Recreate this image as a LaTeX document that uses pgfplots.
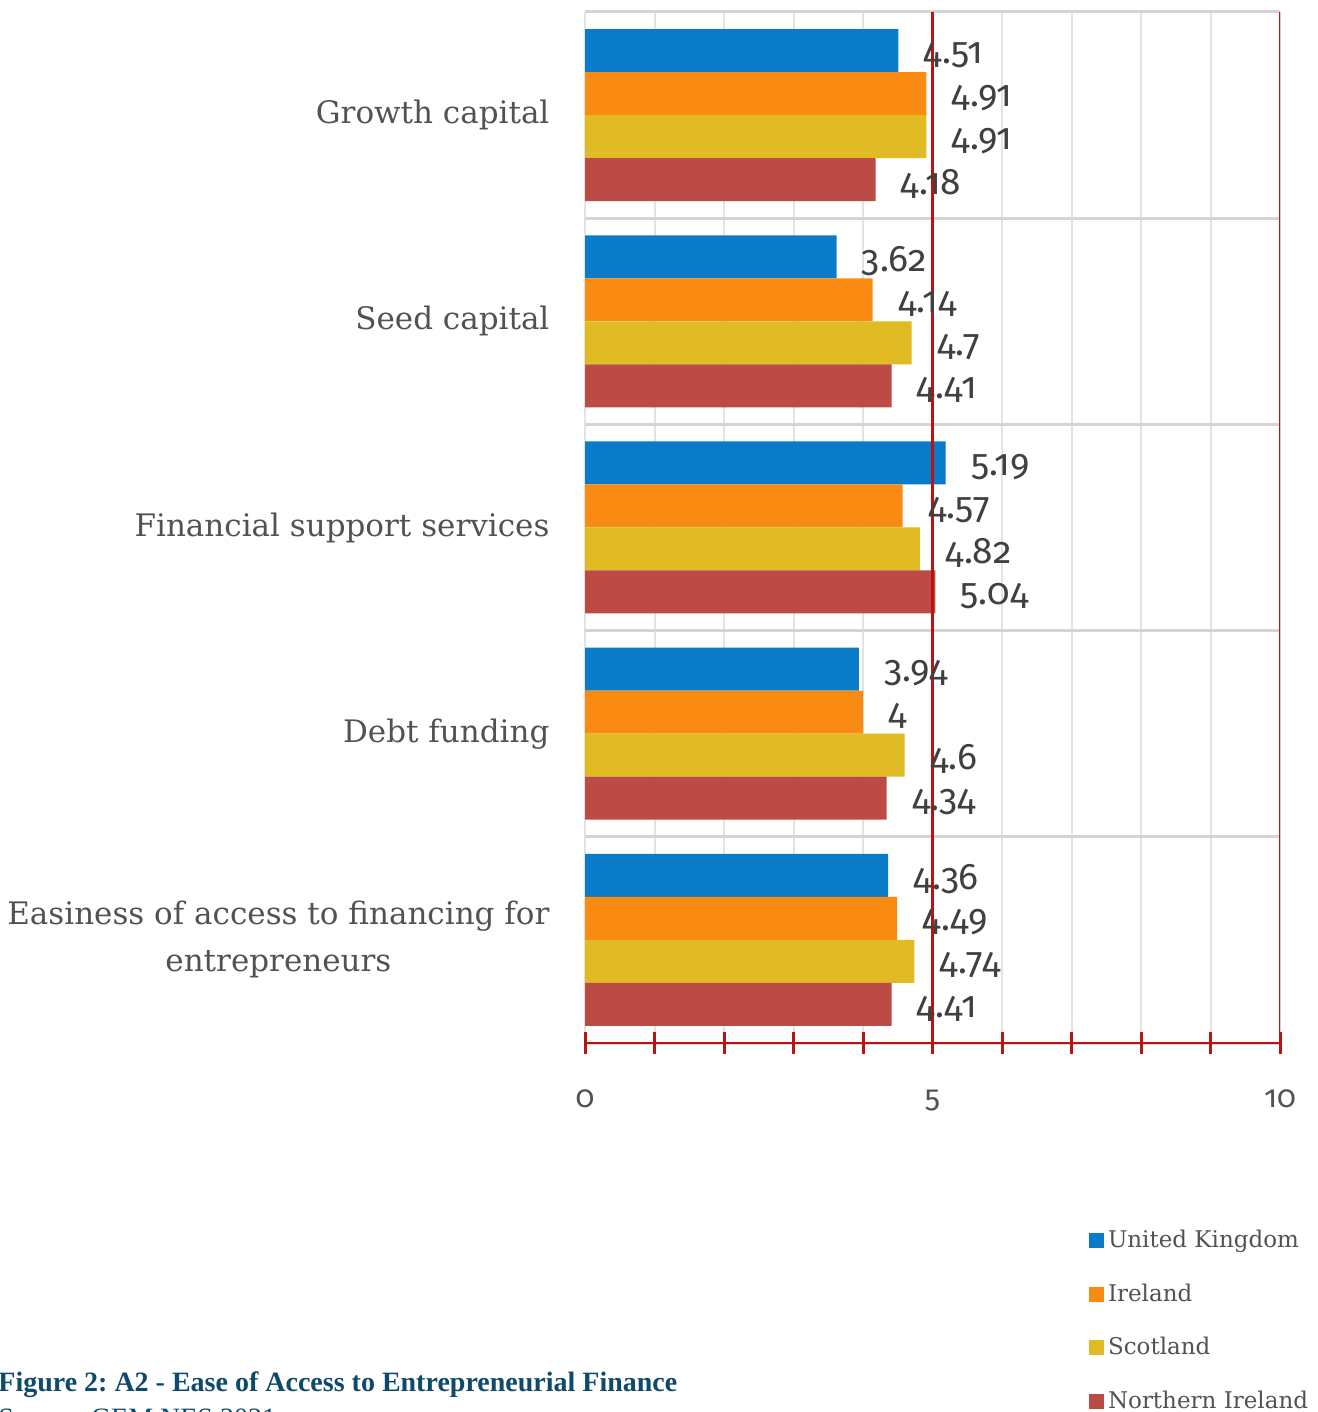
\documentclass[border=0pt]{standalone}
\usepackage{fontspec}
\usepackage{pgfplots}
\pgfplotsset{compat=1.18}
\setmainfont{DejaVu Serif}
\newfontfamily\numfont[Numbers=OldStyle]{Fira Sans}
\newfontfamily\capfont{Liberation Serif}
\definecolor{ukc}{HTML}{0A7BC8}
\definecolor{iec}{HTML}{F98B12}
\definecolor{scc}{HTML}{E0BB23}
\definecolor{nic}{HTML}{BC4B46}
\definecolor{axred}{HTML}{B81414}
\definecolor{txtgray}{HTML}{525252}
\definecolor{lblgray}{HTML}{404040}
\definecolor{gridgray}{HTML}{E3E3E3}
\definecolor{sepgray}{HTML}{D4D4D4}
\definecolor{capblue}{HTML}{0E4A6B}
\frenchspacing
\begin{document}
\begin{tikzpicture}
\useasboundingbox (0,0) rectangle (658.5pt,706pt);
\begin{axis}[
  at={(292.5pt,184.5pt)}, anchor=south west,
  scale only axis, width=347.5pt, height=515.5pt,
  xmin=0, xmax=10, ymin=0.5, ymax=5.5,
  xbar, bar width=21.5pt,
  axis line style={draw=none},
  xtick={0,...,10}, xticklabels={0,,,,,5,,,,,10},
  xtick pos=bottom, tick align=center,
  major tick length=10.5pt,
  xtick style={color=axred, line width=1.5pt},
  xmajorgrids,
  x grid style={gridgray, line width=1pt},
  ytick={1,...,5},
  minor ytick={0.5,1.5,...,5.5},
  yminorgrids,
  ytick style={draw=none},
  minor tick length=0pt,
  minor y tick style={draw=none},
  minor y grid style={sepgray, line width=1.5pt},
  yticklabels={{Easiness of access to financing for\\entrepreneurs},Debt funding,Financial support services,Seed capital,Growth capital},
  yticklabel style={align=center, font=\fontsize{15.5pt}{23.5pt}\selectfont, text=txtgray, xshift=-9pt},
  xticklabel style={font=\numfont\fontsize{15.5pt}{18pt}\selectfont, text=txtgray, yshift=-14.5pt},
  point meta=x,
  /pgf/number format/assume math mode=true,
  nodes near coords,
  every node near coord/.append style={anchor=west, inner sep=0pt, xshift=12.5pt, yshift=-2pt,
    font=\numfont\fontsize{18.5pt}{20pt}\selectfont, text=lblgray},
  legend style={at={(0.716,-0.1736)}, anchor=north west, draw=none, fill=none,
    font=\fontsize{11.5pt}{14pt}\selectfont, text=txtgray, row sep=12.5pt,
    /tikz/every even column/.append style={column sep=3pt}},
  legend cell align=left,
  legend image code/.code={\draw[draw=none] (0pt,-3.75pt) rectangle (7.5pt,3.75pt);},
]
\addplot[fill=ukc, draw=none, bar shift=32.25pt] coordinates {(4.36,1) (3.94,2) (5.19,3) (3.62,4) (4.51,5)};
\addplot[fill=iec, draw=none, bar shift=10.75pt] coordinates {(4.49,1) (4,2) (4.57,3) (4.14,4) (4.91,5)};
\addplot[fill=scc, draw=none, bar shift=-10.75pt] coordinates {(4.74,1) (4.6,2) (4.82,3) (4.7,4) (4.91,5)};
\addplot[fill=nic, draw=none, bar shift=-32.25pt] coordinates {(4.41,1) (4.34,2) (5.04,3) (4.41,4) (4.18,5)};
\legend{United Kingdom,Ireland,Scotland,Northern Ireland}
\draw[axred, line width=1.5pt] (axis cs:5,0.5) -- (axis cs:5,5.5);
\draw[axred, line width=1.5pt] (axis cs:10,0.5) -- (axis cs:10,5.5);
\draw[axred, line width=1.5pt] (axis cs:0,0.5) -- (axis cs:10,0.5);
\end{axis}
\node[anchor=base west, inner sep=0pt, font=\capfont\bfseries\fontsize{14pt}{16pt}\selectfont, text=capblue] at (-1pt,10pt) {Figure 2: A2 - Ease of Access to Entrepreneurial Finance};
\node[anchor=base west, inner sep=0pt, font=\capfont\fontsize{14pt}{16pt}\selectfont, text=capblue] at (-1pt,-8pt) {Source: GEM NES 2021};
\end{tikzpicture}
\end{document}
